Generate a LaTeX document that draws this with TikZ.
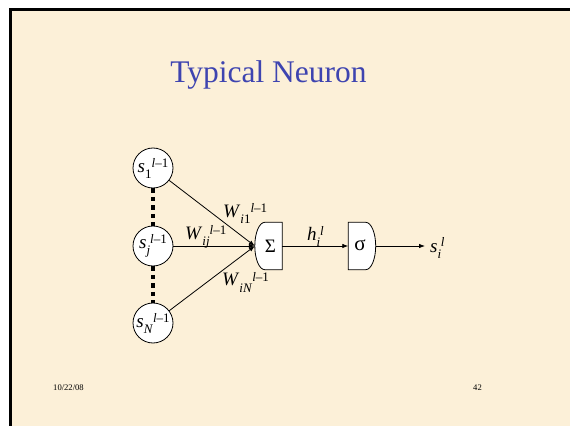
\documentclass[tikz,border=0pt]{standalone}
\usepackage{fontspec}
\setmainfont{Liberation Serif}
\usetikzlibrary{arrows.meta,calc}
\definecolor{paper}{RGB}{252,240,216}
\definecolor{titleblue}{RGB}{62,68,176}
\newcommand{\lmo}{\textit{l}–1}
% base, sub, sup (sup after sub)
\newcommand{\ssq}[3]{\textit{#1}{\fontsize{13}{13}\selectfont\raisebox{-6pt}{#2}\raisebox{5pt}{#3}}}
% base, sub, sup (close, for single letters)
\newcommand{\sst}[3]{\textit{#1}{\fontsize{13}{13}\selectfont\raisebox{-5pt}{#2}\hspace{-0.3pt}\raisebox{6pt}{#3}}}
\begin{document}
\begin{tikzpicture}[x=1pt,y=1pt,
  neuron/.style={circle,draw,line width=0.8pt,fill=white,minimum size=40pt,inner sep=0pt,font=\fontsize{19}{20}\selectfont},
  gatebox/.style={minimum width=27pt,minimum height=47pt,inner sep=0pt},
  gateline/.style={line width=0.8pt,fill=white},
  lab/.style={inner sep=0pt,font=\fontsize{19}{20}\selectfont},
  arr/.style={-{Latex[length=6pt,width=4.5pt]},line width=0.8pt},
  dots/.style={line width=4pt,dash pattern=on 4.5pt off 4pt},
  foot/.style={inner sep=0pt,font=\fontsize{8.6}{10}\selectfont}]
\useasboundingbox (0,0) rectangle (570,426);
\fill[white] (0,0) rectangle (570,426);
\fill[paper] (10.5,0) rectangle (570,416.5);
\fill[black] (9,0) rectangle (12,418);
\fill[black] (9,415) rectangle (570,418);
\node[titleblue,inner sep=0pt,font=\fontsize{31.5}{36}\selectfont,anchor=base] (title) at (268.5,343) {Typical Neuron};
% input neurons
\node[neuron] (s1) at (153,258) {\ssq{s}{1}{\lmo}};
\node[neuron] (sj) at (153,180) {\ssq{s}{\textit{j}}{\lmo}};
\node[neuron] (sN) at (153,103) {\ssq{s}{\textit{N}}{\lmo}};
\draw[dots] (s1) -- (sj);
\draw[dots] (sj) -- (sN);
% summation and activation
\node[gatebox] (sum) at (268.5,180) {};
\draw[gateline] (sum.north east) -- ($(sum.north west)+(10,0)$)
  .. controls ($(sum.north west)+(4.5,0)$) and ($(sum.west)+(0,13)$) .. (sum.west)
  .. controls ($(sum.west)+(0,-13)$) and ($(sum.south west)+(4.5,0)$) .. ($(sum.south west)+(10,0)$)
  -- (sum.south east) -- cycle;
\node[font=\fontsize{19}{20}\selectfont,inner sep=0pt] at ($(sum.center)+(2,0)$) {Σ};
\node[gatebox] (sig) at (362,180) {};
\draw[gateline] (sig.north west) -- ($(sig.north east)+(-10,0)$)
  .. controls ($(sig.north east)+(-4.5,0)$) and ($(sig.east)+(0,13)$) .. (sig.east)
  .. controls ($(sig.east)+(0,-13)$) and ($(sig.south east)+(-4.5,0)$) .. ($(sig.south east)+(-10,0)$)
  -- (sig.south west) -- cycle;
\node[font=\fontsize{21}{22}\selectfont,inner sep=0pt] at ($(sig.center)+(-2,1)$) {σ};
% connectors
\draw[arr] (s1) -- (sum.west);
\draw[arr] (sj) -- (sum.west);
\draw[arr] (sN) -- (sum.west);
\draw[arr] (sum.east) -- (sig.west);
\node[lab,anchor=base west] (out) at (430,173) {\sst{s}{\textit{i}}{\textit{l}}};
\coordinate (outend) at (425,180);
\draw[arr] (sig.east) -- (outend);
% labels
\node[lab,anchor=base west] (w1) at (223,208) {\ssq{W}{\textit{i}1}{\lmo}};
\node[lab,anchor=base west] (wj) at (185,186) {\ssq{W}{\textit{ij}}{\lmo}};
\node[lab,anchor=base west] (wN) at (222,140) {\ssq{W}{\textit{iN}}{\lmo}};
\node[lab,anchor=base west] (h) at (307,185) {\sst{h}{\textit{i}}{\textit{l}}};
% footer
\node[foot,anchor=base west] (date) at (53,36) {10/22/08};
\node[foot,anchor=base west] (page) at (473,36) {42};
\end{tikzpicture}
\end{document}
